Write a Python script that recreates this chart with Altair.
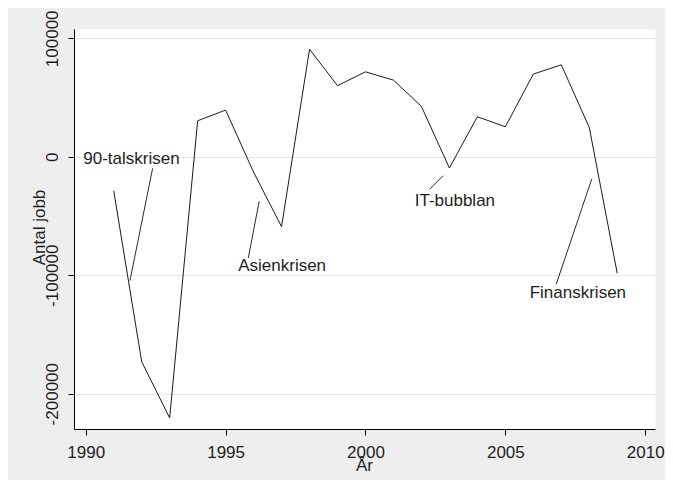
import altair as alt
import pandas as pd

# ---- data ----
years = list(range(1991, 2010))
jobs = [-28700, -173000, -220500, 30400, 39400, -13000, -59000, 90800, 60000,
        71700, 64700, 42500, -9500, 33800, 25300, 69800, 77600, 24800, -98400]

labels = ["90-talskrisen", "Asienkrisen", "IT-bubblan", "Finanskrisen"]
label_x = [1989.91, 1995.45, 2001.76, 2005.87]
label_y = [-6200, -96200, -41350, -119500]

ptr_x1 = [1992.39, 1996.20, 2002.77, 2008.09]
ptr_y1 = [-9800, -37600, -16000, -18800]
ptr_x2 = [1991.58, 1995.81, 2002.30, 2006.82]
ptr_y2 = [-104600, -85500, -27300, -107500]

x_ticks = [1990, 1995, 2000, 2005, 2010]
y_ticks = [-200000, -100000, 0, 100000]

df = pd.DataFrame({"year": years, "jobs": jobs})
ann = pd.DataFrame({"label": labels, "x": label_x, "y": label_y})
ptr = pd.DataFrame({"x1": ptr_x1, "y1": ptr_y1, "x2": ptr_x2, "y2": ptr_y2})

FONT = "Liberation Sans"
TXT = "#1e1e1e"
FS = 17

xscale = alt.Scale(domain=[1989.58, 2010.35], nice=False, zero=False)
yscale = alt.Scale(domain=[-229800, 107850], nice=False, zero=False)

xaxis = alt.Axis(
    values=x_ticks, labelExpr="'' + datum.value", title="År", grid=False,
    domainColor="black", tickColor="black", tickSize=6, labelPadding=22,
    labelFontSize=FS, labelFont=FONT, labelColor=TXT, labelBaseline="alphabetic",
    labelFlush=False, labelOverlap=False,
    titleFontSize=FS, titleFont=FONT, titleFontWeight="normal", titleColor=TXT,
    titleX=290, titleY=41, titleBaseline="alphabetic", titleAlign="center",
)
yaxis = alt.Axis(
    values=y_ticks, labelExpr="'' + datum.value", title="Antal jobb",
    grid=True, gridColor="#e6e6e6", gridWidth=1,
    domainColor="black", tickColor="black", tickSize=6, labelPadding=11,
    labelAngle=270, labelAlign="center", labelBaseline="alphabetic",
    labelFontSize=FS, labelFont=FONT, labelColor=TXT, labelFlush=False,
    labelOverlap=False,
    titleFontSize=FS, titleFont=FONT, titleFontWeight="normal", titleColor=TXT,
    titleAngle=270, titleX=-30, titleY=198, titleBaseline="alphabetic",
    titleAlign="center",
)

line = alt.Chart(df).mark_line(color="#1a1a1a", strokeWidth=1).encode(
    x=alt.X("year:Q", scale=xscale, axis=xaxis),
    y=alt.Y("jobs:Q", scale=yscale, axis=yaxis),
)

rules = alt.Chart(ptr).mark_rule(color="#2a2a2a", strokeWidth=1).encode(
    x=alt.X("x1:Q", scale=xscale),
    y=alt.Y("y1:Q", scale=yscale),
    x2="x2:Q",
    y2="y2:Q",
)

texts = alt.Chart(ann).mark_text(
    align="left", baseline="alphabetic", fontSize=FS, font=FONT, color=TXT
).encode(
    x=alt.X("x:Q", scale=xscale),
    y=alt.Y("y:Q", scale=yscale),
    text="label:N",
)

chart = alt.layer(line, rules, texts).properties(
    width=581, height=400,
    autosize=alt.AutoSizeParams(type="none"),
    padding={"left": 66, "top": 21, "right": 10, "bottom": 51},
).configure(background="#eeeeee").configure_view(fill="white", stroke="transparent")

chart.save("out.html", embed_options={"renderer": "svg", "actions": False})
